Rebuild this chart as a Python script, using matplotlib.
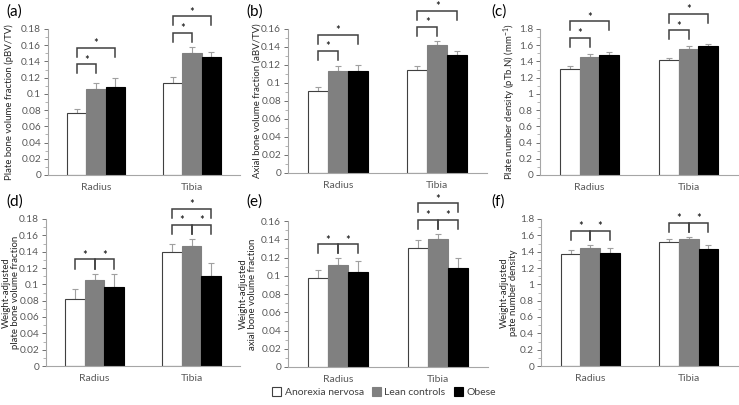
import numpy as np
import matplotlib
matplotlib.use('Agg')
import matplotlib.pyplot as plt
from matplotlib.ticker import MultipleLocator, FuncFormatter
from matplotlib.patches import Patch

plt.rcParams['font.family'] = ['Lato', 'DejaVu Sans']
plt.rcParams['mathtext.default'] = 'regular'

sites = ['Radius', 'Tibia']
groups = ['Anorexia nervosa', 'Lean controls', 'Obese']

# means[site][group], errs[site][group]
a_mean = [[0.076, 0.106, 0.109], [0.114, 0.150, 0.145]]
a_err = [[0.005, 0.008, 0.010], [0.007, 0.008, 0.007]]
b_mean = [[0.091, 0.113, 0.113], [0.114, 0.142, 0.131]]
b_err = [[0.004, 0.006, 0.007], [0.005, 0.005, 0.005]]
c_mean = [[1.31, 1.45, 1.48], [1.42, 1.55, 1.59]]
c_err = [[0.03, 0.04, 0.04], [0.02, 0.04, 0.02]]
d_mean = [[0.082, 0.105, 0.097], [0.139, 0.147, 0.110]]
d_err = [[0.012, 0.008, 0.016], [0.011, 0.008, 0.016]]
e_mean = [[0.097, 0.112, 0.104], [0.130, 0.140, 0.109]]
e_err = [[0.009, 0.007, 0.012], [0.009, 0.006, 0.011]]
f_mean = [[1.37, 1.45, 1.38], [1.52, 1.55, 1.43]]
f_err = [[0.05, 0.03, 0.07], [0.04, 0.03, 0.05]]

# significant pairs: (site, group i, group j)
a_sig = [(0, 0, 1), (0, 0, 2), (1, 0, 1), (1, 0, 2)]
b_sig = a_sig
c_sig = a_sig
d_sig = [(0, 0, 1), (0, 1, 2), (1, 0, 1), (1, 1, 2), (1, 0, 2)]
e_sig = d_sig
f_sig = [(0, 0, 1), (0, 1, 2), (1, 0, 1), (1, 1, 2)]

ylabels = ['Plate bone volume fraction (pBV/TV)',
           'Axial bone volume fraction (aBV/TV)',
           'Plate number density (pTb.N) (mm$^{-1}$)',
           'Weight-adjusted\nplate bone volume fraction',
           'Weight-adjusted\naxial bone volume fraction',
           'Weight-adjusted\npate number density']

panels = [
    ('(a)', a_mean, a_err, a_sig, 0.18, 0.02, 0.01),
    ('(b)', b_mean, b_err, b_sig, 0.16, 0.02, 0.01),
    ('(c)', c_mean, c_err, c_sig, 1.8, 0.2, 0.1),
    ('(d)', d_mean, d_err, d_sig, 0.18, 0.02, 0.01),
    ('(e)', e_mean, e_err, e_sig, 0.16, 0.02, 0.01),
    ('(f)', f_mean, f_err, f_sig, 1.8, 0.2, 0.1),
]

# axes boxes in pixels: left, right, top, bottom
W, H = 739, 405
boxes = [(48, 240, 29, 175), (288, 487, 29, 173), (540, 738, 29, 175),
         (46, 240, 219, 366), (288, 488, 221, 367), (541, 738, 219, 366)]
label_pos = [(6, 12), (246, 12), (491, 12), (6, 202), (246, 202), (491, 202)]
ylabel_x = [9, 257, 510, 11, 248, 509]

colors = ['white', '#808080', 'black']
tick_c = '#595959'
spine_c = '#a6a6a6'
brk_c = '#404040'

fig = plt.figure(figsize=(W / 100, H / 100), dpi=100)

bw = 0.2
for k, (lab, mean, err, sig, ymax, major, minor) in enumerate(panels):
    l, r, t, b = boxes[k]
    ax = fig.add_axes([l / W, 1 - b / H, (r - l) / W, (b - t) / H])
    mean = np.array(mean)
    err = np.array(err)
    x = np.arange(len(sites))
    for g in range(3):
        ax.bar(x + (g - 1) * bw, mean[:, g], bw, color=colors[g],
               edgecolor='#404040' if g == 0 else colors[g], linewidth=0.8,
               zorder=2)
        ax.errorbar(x + (g - 1) * bw, mean[:, g],
                    yerr=[np.zeros(2), err[:, g]], fmt='none',
                    ecolor='#a0a0a0', elinewidth=0.8, capsize=2.5,
                    capthick=0.8, zorder=1)
    ax.set_xlim(-0.5, 1.5)
    ax.set_ylim(0, ymax)
    ax.yaxis.set_major_locator(MultipleLocator(major))
    ax.yaxis.set_minor_locator(MultipleLocator(minor))
    ax.yaxis.set_major_formatter(FuncFormatter(lambda v, p: f'{v:.2f}'.rstrip('0').rstrip('.') if v else '0'))
    ax.set_xticks(x)
    ax.set_xticklabels(sites)
    ax.tick_params(axis='x', length=0, labelsize=7.5, colors=tick_c, pad=6)
    ax.tick_params(axis='y', which='major', length=3, labelsize=7.3,
                   colors=tick_c, width=0.6, pad=2)
    ax.tick_params(axis='y', which='minor', length=2, colors=spine_c, width=0.6)
    for s in ['top', 'right']:
        ax.spines[s].set_visible(False)
    for s in ['left', 'bottom']:
        ax.spines[s].set_color(spine_c)
        ax.spines[s].set_linewidth(0.8)
    ax.set_ylabel(ylabels[k], fontsize=6.9, color='#262626',
                  linespacing=1.0, va='center')
    ax.yaxis.set_label_coords((ylabel_x[k] - l) / (r - l), 0.5)

    # significance brackets, in axes-fraction heights
    trans = ax.get_xaxis_transform()
    tops = (mean + err) / ymax
    leg = 0.062
    level = {}
    for (s, i, j) in sig:
        if j - i == 1:
            base = tops[s].max() + 0.035
            level[s] = base + leg
        else:
            base = level.get(s, tops[s].max() + 0.035) + 0.05
        x0 = s + (i - 1) * bw
        x1 = s + (j - 1) * bw
        ax.plot([x0, x0, x1, x1], [base, base + leg, base + leg, base],
                color=brk_c, lw=1.1, transform=trans, clip_on=False,
                solid_joinstyle='miter')
        ax.annotate('*', xy=((x0 + x1) / 2, base + leg), xycoords=trans,
                    xytext=(0, 0.5), textcoords='offset points',
                    ha='center', va='baseline', fontsize=8, color='black',
                    annotation_clip=False)

    fig.text(label_pos[k][0] / W, 1 - label_pos[k][1] / H, lab,
             fontsize=11, ha='left', va='center', color='black')

handles = [Patch(facecolor=colors[g], edgecolor='#404040' if g == 0 else colors[g],
                 linewidth=0.8) for g in range(3)]
fig.legend(handles, groups, loc='center', bbox_to_anchor=(384 / W, 1 - 392 / H),
           ncol=3, frameon=False, fontsize=7.5, handlelength=0.9,
           handleheight=0.9, handletextpad=0.3, columnspacing=0.8,
           labelcolor='#404040', borderpad=0)

fig.savefig('out.png', dpi=100)
